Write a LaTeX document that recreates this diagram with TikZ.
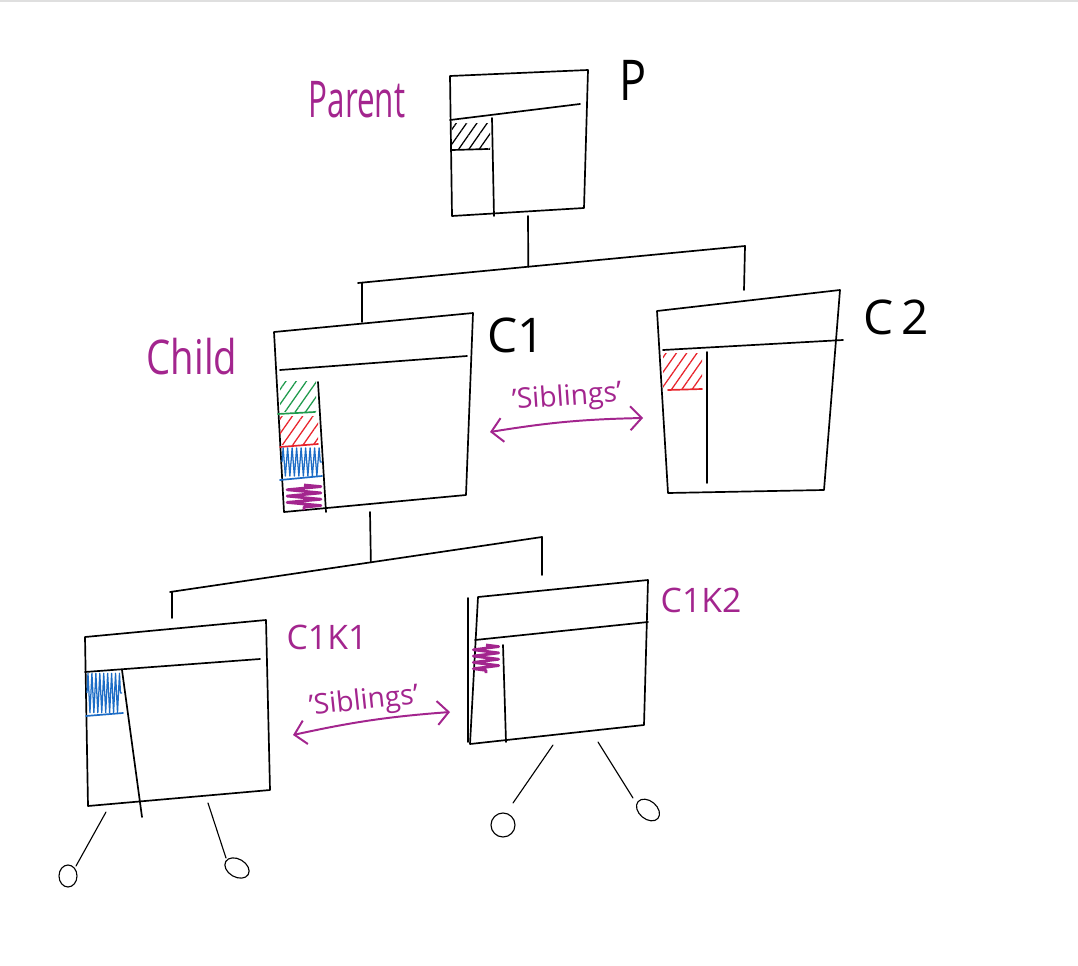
\documentclass[tikz,border=0pt]{standalone}
\usepackage{fontspec}
\setsansfont{Open Sans}
\usetikzlibrary{arrows.meta,patterns.meta,decorations.pathmorphing,calc}

\definecolor{ink}{HTML}{A3258E}
\definecolor{hgreen}{HTML}{1E9A4C}
\definecolor{hred}{HTML}{E8242C}
\definecolor{hblue}{HTML}{1C6CC6}

\begin{document}
\begin{tikzpicture}[x=0.025cm, y=-0.025cm,
    % Styles
    frame/.style={line width=1.2pt, line join=round, line cap=round},   % window outlines
    hand/.style={font=\sffamily, inner sep=0pt},                        % black labels
    tag/.style={hand, text=ink},                                        % purple labels
    hatch/.style={pattern={Lines[angle=55,distance=6pt,line width=0.9pt]}, pattern color=#1},
    zig/.style={decorate, draw=#1, line width=0.9pt, line join=round,
                decoration={zigzag, amplitude=10pt, segment length=3.2pt}},
    scribble/.style={decorate, draw=ink, line width=2pt, line join=round,
                decoration={zigzag, amplitude=#1, segment length=4.5pt}},
    sib/.style={{Straight Barb[length=8pt,width=17pt]}-{Straight Barb[length=8pt,width=17pt]},
                line width=1.4pt, draw=ink}
]

  % Page
  \fill[white] (0,0) rectangle (1078,966);
  \useasboundingbox (0,0) rectangle (1078,966);
  \draw[gray!25, line width=1.5pt] (0,1) -- (1078,1);

  % Parent window P
  \draw[frame] (450,76) -- (588,70) -- (584,208) -- (452,216) -- cycle;
  \draw[frame] (450,120) -- (580,104);
  \draw[frame] (492,118) -- (494,216);
  \fill[hatch=black] (452,123) rectangle (490,149);
  \draw[frame] (452,150) -- (488,149);
  \node[tag, font=\sffamily\fontsize{36}{36}\selectfont, xscale=0.62] (parent) at (357,100) {Parent};
  \node[hand, font=\sffamily\fontsize{40}{40}\selectfont, xscale=0.8] (p) at (633,80) {P};

  % Tree: P -> C1, C2
  \coordinate (pstem) at (528,216);
  \coordinate (bar1l) at (358,283);
  \coordinate (bar1r) at (745,246);
  \coordinate (bar1m) at ($(bar1l)!0.44!(bar1r)$);
  \draw[frame] (pstem) -- (bar1m);
  \draw[frame] (bar1l) -- (bar1r);
  \draw[frame] (bar1l) ++(4,0) -- (362,322);
  \draw[frame] (bar1r) -- (744,290);

  % Child window C1
  \draw[frame] (274,332) -- (473,313) -- (466,495) -- (284,512) -- cycle;
  \draw[frame] (280,370) -- (467,356);
  \draw[frame] (318,382) -- (326,512);
  \fill[hatch=hgreen] (280,381) rectangle (316,411);
  \draw[frame, hgreen] (278,414) -- (315,412);
  \fill[hatch=hred] (280,416) rectangle (318,444);
  \draw[frame, hred] (280,447) -- (318,444);
  \draw[zig=hblue] (282,462) -- (322,462);
  \draw[frame, hblue] (280,480) -- (322,476);
  \draw[scribble=12pt] (304,485) -- (304,510);
  \node[tag, font=\sffamily\fontsize{34}{34}\selectfont, xscale=0.8] (child) at (192,357) {Child};
  \node[hand, font=\sffamily\fontsize{34}{34}\selectfont] (c1) at (516,335) {C1};

  % Child window C2
  \draw[frame] (657,311) -- (840,290) -- (824,490) -- (668,493) -- cycle;
  \draw[frame] (663,350) -- (843,340);
  \draw[frame] (707,352) -- (707,483);
  \fill[hatch=hred] (663,353) rectangle (702,389);
  \draw[frame, hred] (668,390) -- (702,389);
  \node[hand, font=\sffamily\fontsize{34}{34}\selectfont] (c2) at (896,317) {C\,2};

  % Siblings C1 <-> C2
  \coordinate (s1a) at (490,432);
  \coordinate (s1b) at (643,418);
  \draw[sib] (s1a) to[bend left=4] (s1b);
  \node[tag, font=\sffamily\fontsize{20}{20}\selectfont, rotate=4] (sib1) at (567,398) {'Siblings'};

  % Tree: C1 -> C1K1, C1K2
  \coordinate (c1stem) at (370,512);
  \coordinate (bar2l) at (170,592);
  \coordinate (bar2r) at (542,537);
  \coordinate (bar2m) at ($(bar2l)!0.54!(bar2r)$);
  \draw[frame] (c1stem) -- (bar2m);
  \draw[frame] (bar2l) -- (bar2r);
  \draw[frame] (bar2l) ++(2,0) -- (172,618);
  \draw[frame] (bar2r) -- (542,575);

  % Grandchild window C1K1
  \draw[frame] (85,637) -- (266,620) -- (270,790) -- (88,806) -- cycle;
  \draw[frame] (85,672) -- (260,659);
  \draw[frame] (122,670) -- (142,817);
  \draw[zig=hblue, decoration={amplitude=14pt, segment length=2.8pt}] (87,693) -- (122,693);
  \draw[frame, hblue] (86,716) -- (123,713);
  \node[tag, font=\sffamily\fontsize{24}{24}\selectfont] (c1k1) at (327,637) {C1K1};
  \draw[frame, line width=0.8pt] (106,812) -- (76,866);
  \draw[frame, line width=0.8pt] (68,876) ellipse [x radius=9, y radius=11];
  \draw[frame, line width=0.8pt] (208,803) -- (226,858);
  \draw[frame, line width=0.8pt, rotate around={-30:(237,868)}] (237,868) ellipse [x radius=13, y radius=9];

  % Grandchild window C1K2
  \draw[frame] (478,597) -- (648,580) -- (644,725) -- (470,744) -- cycle;
  \draw[frame] (468,598) -- (468,742);
  \draw[frame] (475,640) -- (648,622);
  \draw[frame] (503,645) -- (506,742);
  \draw[scribble=9pt] (486,645) -- (486,673);
  \node[tag, font=\sffamily\fontsize{24}{24}\selectfont] (c1k2) at (701,600) {C1K2};
  \draw[frame, line width=0.8pt] (553,745) -- (513,803);
  \draw[frame, line width=0.8pt] (503,825) circle [radius=12];
  \draw[frame, line width=0.8pt] (598,742) -- (633,798);
  \draw[frame, line width=0.8pt, rotate around={-40:(648,810)}] (648,810) ellipse [x radius=13, y radius=9];

  % Siblings C1K1 <-> C1K2
  \coordinate (s2a) at (293,735);
  \coordinate (s2b) at (450,712);
  \draw[sib] (s2a) to[bend left=4] (s2b);
  \node[tag, font=\sffamily\fontsize{20}{20}\selectfont, rotate=6] (sib2) at (364,702) {'Siblings'};

\end{tikzpicture}
\end{document}
